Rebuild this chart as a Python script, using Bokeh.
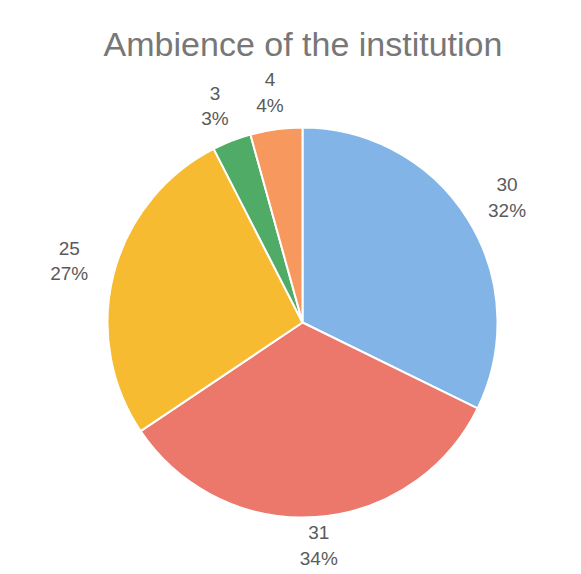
import numpy as np
import pandas as pd
from bokeh.plotting import figure
from bokeh.models import Range1d, ColumnDataSource
from bokeh.core.properties import value
from bokeh.embed import file_html
from bokeh.resources import INLINE

# ---- data ----
title_text = "Ambience of the institution"
categories = ["A", "B", "C", "D", "E"]
counts = [30, 31, 25, 3, 4]
colors = ["#82b4e8", "#ec776b", "#f6bb30", "#4fab66", "#f7985f"]

# ---- layout constants (page pixels) ----
W, H = 573, 572
PAGE_H = 574
cx, cy_page, r = 302, 322, 195
cy = PAGE_H - cy_page
lab_rx, lab_ry, lab_shift = 241, 228, 4

df = pd.DataFrame({"cat": categories, "count": counts, "color": colors})
total = df["count"].sum()
frac = df["count"] / total
cum_end = frac.cumsum()
cum_start = cum_end - frac
# clockwise from 12 o'clock
df["start"] = np.pi / 2 - cum_end * 2 * np.pi
df["end"] = np.pi / 2 - cum_start * 2 * np.pi
mid = (cum_start + frac / 2) * 2 * np.pi  # clockwise from top
df["lx"] = cx + lab_rx * np.sin(mid)
df["ly"] = cy + lab_ry * np.cos(mid) + lab_shift

# largest-remainder percentages (sum to 100)
raw = frac * 100
pct = np.floor(raw).astype(int)
short = 100 - pct.sum()
order = np.argsort(-(raw - pct).values)
for i in order[:short]:
    pct.iloc[i] += 1
df["val_txt"] = df["count"].astype(str)
df["pct_txt"] = pct.astype(str) + "%"
df["val_y"] = df["ly"] + 13
df["pct_y"] = df["ly"] - 12.5
src = ColumnDataSource(df)

p = figure(width=W, height=H, output_backend="svg", toolbar_location=None,
           x_range=Range1d(0, W), y_range=Range1d(PAGE_H - H, PAGE_H),
           min_border=0, outline_line_color=None, tools="")
p.axis.visible = False
p.grid.visible = False
p.background_fill_color = "white"
p.border_fill_color = "white"

p.wedge(x=cx, y=cy, radius=r, start_angle="start", end_angle="end",
        fill_color="color", line_color="white", line_width=2, source=src)

font = value("Liberation Sans")
p.text(x="lx", y="val_y", text="val_txt", source=src, text_font=font,
       text_font_size="19px", text_color="#5a5a5a", text_align="center",
       text_baseline="middle")
p.text(x="lx", y="pct_y", text="pct_txt", source=src, text_font=font,
       text_font_size="19px", text_color="#5a5a5a", text_align="center",
       text_baseline="middle")

p.text(x=[302.5], y=[PAGE_H - 43], text=[title_text], text_font=font,
       text_font_size="34px", text_color="#777777", text_align="center",
       text_baseline="middle")

open("out.html", "w").write(file_html(p, INLINE))
